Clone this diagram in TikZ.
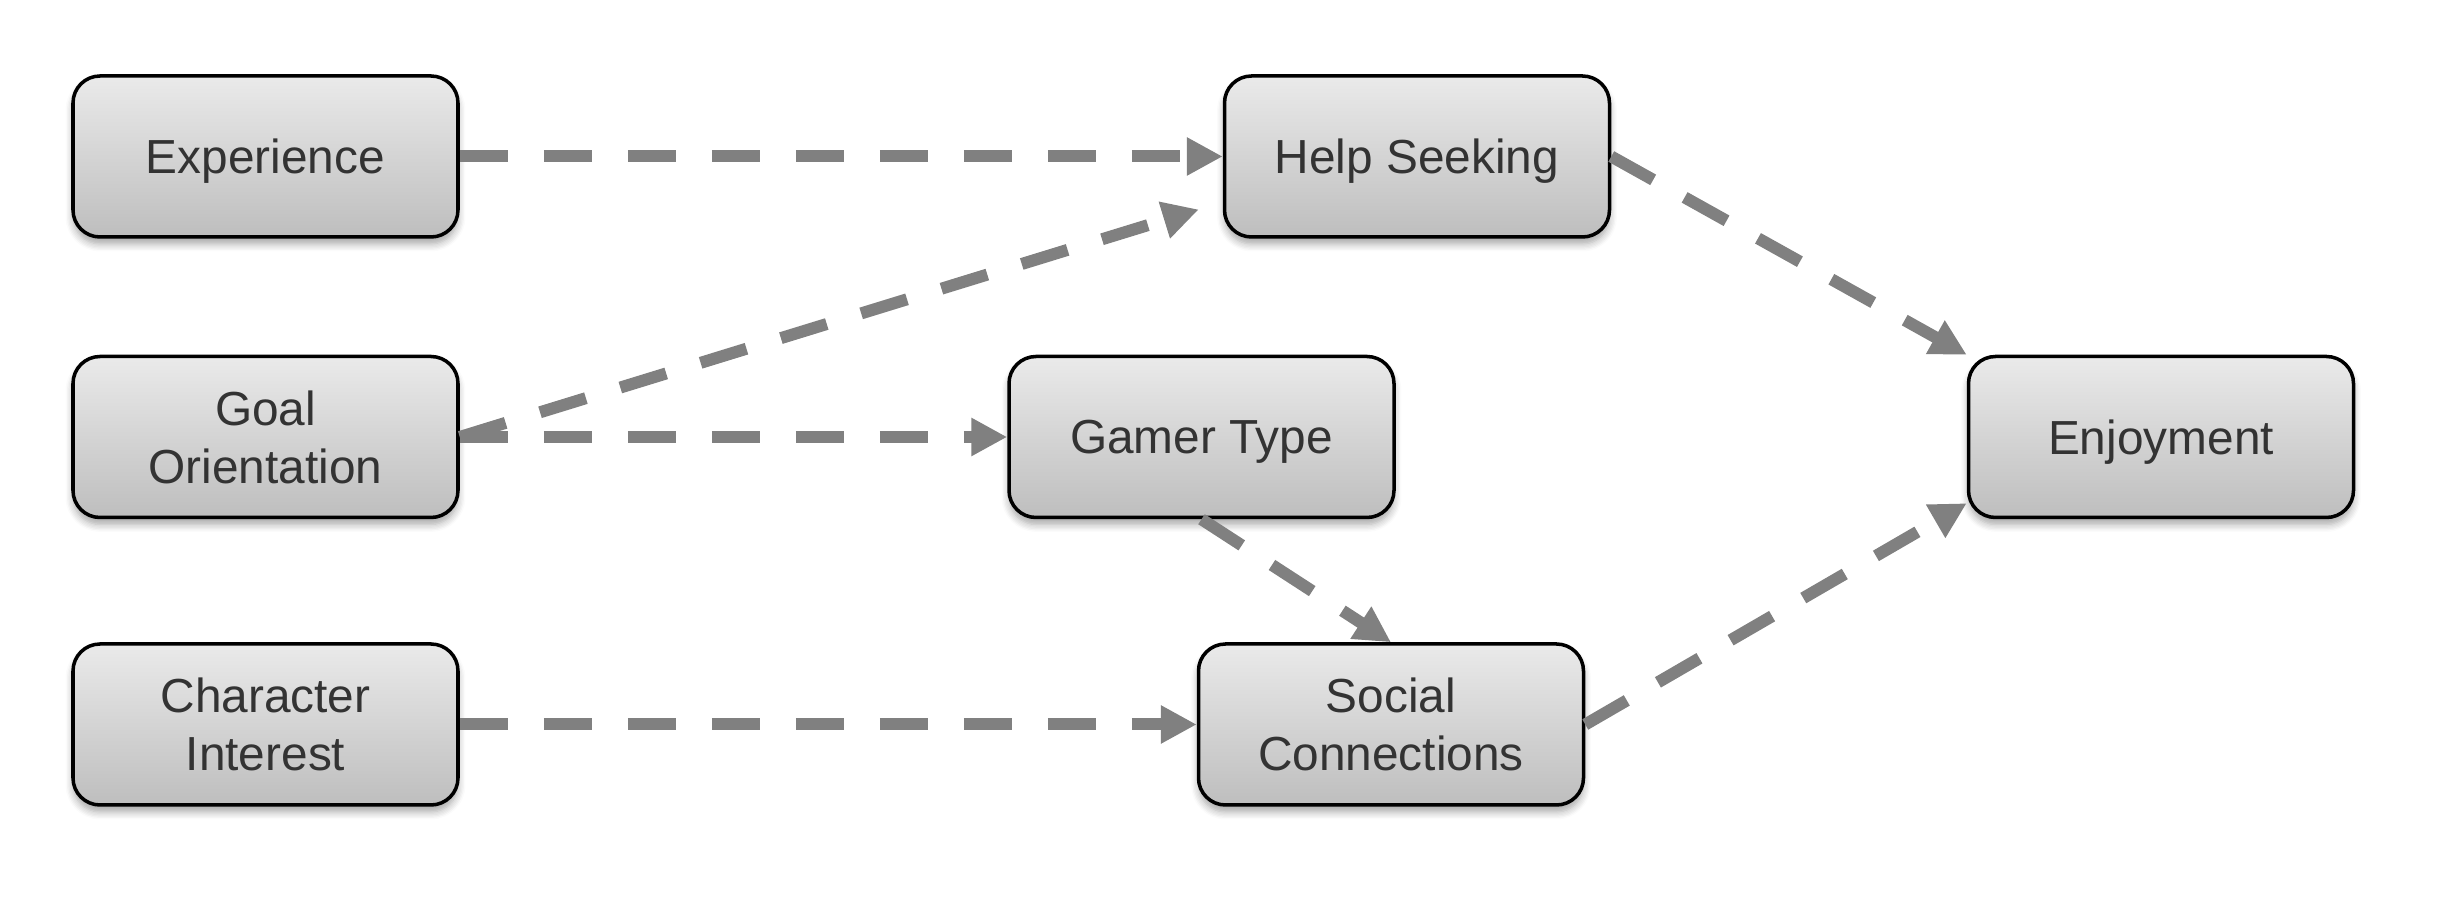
\documentclass[tikz,border=0pt]{standalone}
\usepackage{fontspec}
\setmainfont{Liberation Sans}
\usepackage{tikz}
\usetikzlibrary{arrows.meta}
\usetikzlibrary{shadows.blur}
\usepackage{xcolor}

\definecolor{boxtop}{HTML}{EAEAEA}
\definecolor{boxbottom}{HTML}{BEBEBE}
\definecolor{linkgray}{HTML}{808080}
\definecolor{labelgray}{HTML}{333333}

\begin{document}
\begin{tikzpicture}[
    factor/.style={draw=black, line width=1pt, rounded corners=0.27cm,
      top color=boxtop, bottom color=boxbottom,
      minimum width=3.85cm, minimum height=1.61cm, inner sep=0pt,
      text depth=0pt, align=center, text=labelgray,
      font=\fontsize{13.6}{16.5}\selectfont,
      blur shadow={shadow xshift=0pt, shadow yshift=-0.07cm, shadow blur steps=6, shadow opacity=35}},
    link/.style={draw=linkgray, line width=0.12cm,
      dash pattern=on 0.48cm off 0.36cm,
      arrows={-Triangle[length=0.36cm, width=0.36cm, fill=linkgray]}}
  ]
    \useasboundingbox (0,0) rectangle (24.41,8.98);

    % left column
    \node[factor] (exp) at (2.655,7.415) {Experience};
    \node[factor] (goal) at (2.655,4.61) {Goal\\Orientation};
    \node[factor] (char) at (2.655,1.735) {Character\\Interest};

    % middle
    \node[factor] (help) at (14.17,7.415) {Help Seeking};
    \node[factor] (gamer) at (12.015,4.61) {Gamer Type};
    \node[factor] (social) at (13.91,1.735) {Social\\Connections};

    % outcome
    \node[factor] (enjoy) at (21.61,4.61) {Enjoyment};

    \coordinate (hsin) at ([shift={(-0.24,-0.53)}]help.west);

    \draw[link] (exp.east) -- (help.west);
    \draw[link] (goal.east) -- (hsin);
    \draw[link] (goal.east) -- (gamer.west);
    \draw[link] (gamer.south) -- (social.north);
    \draw[link] (char.east) -- (social.west);
    \draw[link] (help.east) -- (enjoy.north west);
    \draw[link] (social.east) -- ([yshift=0.16cm]enjoy.south west);

  \end{tikzpicture}
\end{document}
